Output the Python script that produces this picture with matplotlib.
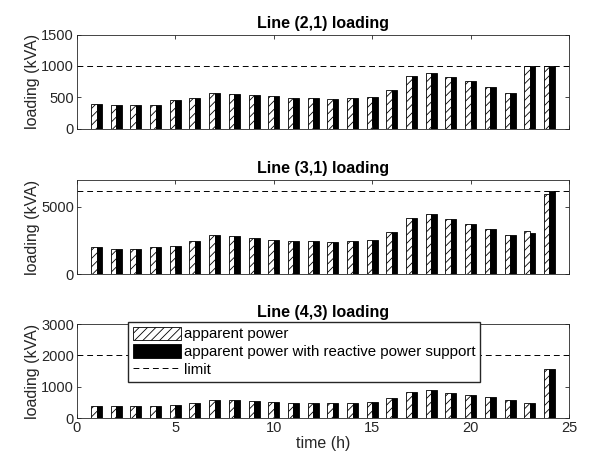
import matplotlib.pyplot as plt
import numpy as np

plt.rcParams['font.family'] = ['Liberation Sans', 'DejaVu Sans']
plt.rcParams['hatch.linewidth'] = 0.6

hours = np.arange(1, 25)

# Line (2,1)
s21 = [398, 377, 377, 377, 450, 482, 571, 560, 529, 513, 482, 482,
       476, 482, 497, 623, 838, 890, 817, 754, 665, 576, 1000, 1000]
q21 = [398, 377, 377, 377, 450, 482, 571, 560, 529, 513, 482, 482,
       476, 482, 497, 623, 838, 890, 817, 754, 665, 576, 1000, 1000]
# Line (3,1)
s31 = [1990, 1890, 1890, 1990, 2065, 2488, 2910, 2836, 2711, 2537, 2488, 2463,
       2413, 2488, 2562, 3134, 4154, 4453, 4080, 3731, 3358, 2910, 3209, 5970]
q31 = [1990, 1890, 1890, 1990, 2065, 2488, 2910, 2836, 2711, 2537, 2488, 2463,
       2413, 2488, 2562, 3134, 4154, 4453, 4080, 3731, 3358, 2910, 3085, 6169]
# Line (4,3)
s43 = [372, 372, 372, 372, 415, 468, 574, 574, 543, 500, 468, 468,
       468, 468, 500, 628, 840, 904, 809, 745, 660, 574, 468, 1574]
q43 = [372, 372, 372, 372, 415, 468, 574, 574, 543, 500, 468, 468,
       468, 468, 500, 628, 840, 904, 809, 745, 660, 574, 468, 1574]

titles = ['Line (2,1) loading', 'Line (3,1) loading', 'Line (4,3) loading']
limits = [1000, 6150, 2000]
ytops = [1500, 7000, 3000]
yticks = [[0, 500, 1000, 1500], [0, 5000], [0, 1000, 2000, 3000]]
data = [(s21, q21), (s31, q31), (s43, q43)]

fig = plt.figure(figsize=(5.91, 4.66), dpi=100)
bottoms = [0.724, 0.412, 0.103]
w = 0.28
tc = '#262626'

for i in range(3):
    ax = fig.add_axes([0.130, bottoms[i], 0.833, 0.2017])
    s, q = data[i]
    b1 = ax.bar(hours - w / 2, s, w, color='white', edgecolor='black', hatch='////',
                linewidth=0.6, label='apparent power')
    b2 = ax.bar(hours + w / 2, q, w, color='black', edgecolor='black', linewidth=0.6,
                label='apparent power with reactive power support')
    ln = ax.axhline(limits[i], color='black', linestyle=(0, (6, 4)), linewidth=0.7,
                    label='limit')
    ax.set_xlim(0, 25)
    ax.set_ylim(0, ytops[i])
    ax.set_yticks(yticks[i])
    ax.set_xticks([0, 5, 10, 15, 20, 25])
    ax.tick_params(direction='in', top=True, right=True, labelsize=10.5,
                   colors=tc, length=3, width=0.6, pad=2)
    for sp in ax.spines.values():
        sp.set_color(tc)
        sp.set_linewidth(0.6)
    ax.set_title(titles[i], fontsize=11.5, fontweight='bold', pad=5)
    ax.set_ylabel('loading (kVA)', fontsize=11.5, color=tc, labelpad=1)
    if i < 2:
        ax.set_xticklabels([])
    else:
        ax.set_xlabel('time (h)', fontsize=11.5, color=tc, labelpad=1)
        ax.legend(handles=[b1, b2, ln], loc='upper left',
                  bbox_to_anchor=(0.104, 1.02), fontsize=10.8,
                  frameon=True, fancybox=False, edgecolor=tc, framealpha=1,
                  handlelength=3.2, handleheight=1.0, borderpad=0.3,
                  labelspacing=0.2, handletextpad=0.2, borderaxespad=0)

fig.savefig('out.png', dpi=100)
